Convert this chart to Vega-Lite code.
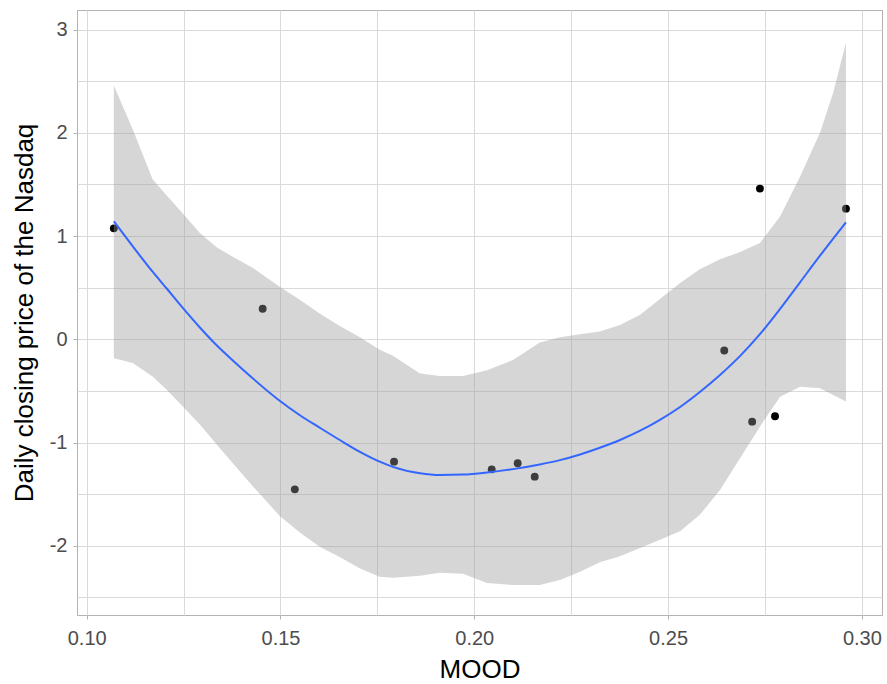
{
  "$schema": "https://vega.github.io/schema/vega-lite/v6.json",
  "width": 805,
  "height": 605,
  "autosize": {"type": "none"},
  "padding": {"left": 77, "top": 10, "right": 5, "bottom": 69},
  "background": "white",
  "config": {
    "font": "Liberation Sans",
    "view": {"stroke": "#B3B3B3", "strokeWidth": 1},
    "axis": {
      "domain": false,
      "gridColor": "#DADADA",
      "gridWidth": 1,
      "tickColor": "#B3B3B3",
      "tickSize": 4,
      "labelColor": "#4D4D4D",
      "labelFont": "Liberation Sans",
      "labelFontSize": 20,
      "titleFont": "Liberation Sans",
      "titleFontSize": 26,
      "titleFontWeight": "normal",
      "titleColor": "black",
      "labelOverlap": false,
      "labelFlush": false
    }
  },
  "datasets": {
    "obs": [
      {"mood": 0.1070, "nasdaq": 1.075},
      {"mood": 0.1454, "nasdaq": 0.296},
      {"mood": 0.1537, "nasdaq": -1.453},
      {"mood": 0.1793, "nasdaq": -1.185},
      {"mood": 0.2045, "nasdaq": -1.259},
      {"mood": 0.2112, "nasdaq": -1.200},
      {"mood": 0.2156, "nasdaq": -1.330},
      {"mood": 0.2645, "nasdaq": -0.108},
      {"mood": 0.2717, "nasdaq": -0.797},
      {"mood": 0.2737, "nasdaq": 1.460},
      {"mood": 0.2776, "nasdaq": -0.745},
      {"mood": 0.2959, "nasdaq": 1.266}
    ],
    "smooth": [
      {"mood": 0.1070, "fit": 1.143, "lo": -0.182, "hi": 2.459},
      {"mood": 0.1119, "fit": 0.900, "lo": -0.230, "hi": 2.032},
      {"mood": 0.1170, "fit": 0.655, "lo": -0.360, "hi": 1.550},
      {"mood": 0.1207, "fit": 0.490, "lo": -0.490, "hi": 1.390},
      {"mood": 0.1248, "fit": 0.305, "lo": -0.650, "hi": 1.220},
      {"mood": 0.1292, "fit": 0.115, "lo": -0.825, "hi": 1.030},
      {"mood": 0.1336, "fit": -0.060, "lo": -1.020, "hi": 0.890},
      {"mood": 0.1377, "fit": -0.205, "lo": -1.200, "hi": 0.800},
      {"mood": 0.1429, "fit": -0.380, "lo": -1.425, "hi": 0.690},
      {"mood": 0.1498, "fit": -0.595, "lo": -1.710, "hi": 0.510},
      {"mood": 0.1550, "fit": -0.735, "lo": -1.870, "hi": 0.383},
      {"mood": 0.1601, "fit": -0.855, "lo": -2.010, "hi": 0.250},
      {"mood": 0.1653, "fit": -0.975, "lo": -2.107, "hi": 0.130},
      {"mood": 0.1705, "fit": -1.090, "lo": -2.219, "hi": 0.020},
      {"mood": 0.1756, "fit": -1.185, "lo": -2.300, "hi": -0.100},
      {"mood": 0.1790, "fit": -1.235, "lo": -2.310, "hi": -0.160},
      {"mood": 0.1860, "fit": -1.297, "lo": -2.290, "hi": -0.330},
      {"mood": 0.1911, "fit": -1.314, "lo": -2.260, "hi": -0.355},
      {"mood": 0.1971, "fit": -1.310, "lo": -2.270, "hi": -0.355},
      {"mood": 0.2033, "fit": -1.290, "lo": -2.360, "hi": -0.300},
      {"mood": 0.2100, "fit": -1.257, "lo": -2.380, "hi": -0.200},
      {"mood": 0.2169, "fit": -1.212, "lo": -2.380, "hi": -0.030},
      {"mood": 0.2221, "fit": -1.170, "lo": -2.330, "hi": 0.020},
      {"mood": 0.2273, "fit": -1.115, "lo": -2.250, "hi": 0.050},
      {"mood": 0.2324, "fit": -1.050, "lo": -2.160, "hi": 0.076},
      {"mood": 0.2376, "fit": -0.975, "lo": -2.100, "hi": 0.140},
      {"mood": 0.2428, "fit": -0.885, "lo": -2.020, "hi": 0.238},
      {"mood": 0.2479, "fit": -0.780, "lo": -1.940, "hi": 0.390},
      {"mood": 0.2531, "fit": -0.655, "lo": -1.860, "hi": 0.545},
      {"mood": 0.2582, "fit": -0.510, "lo": -1.700, "hi": 0.680},
      {"mood": 0.2634, "fit": -0.345, "lo": -1.460, "hi": 0.776},
      {"mood": 0.2686, "fit": -0.160, "lo": -1.150, "hi": 0.845},
      {"mood": 0.2737, "fit": 0.050, "lo": -0.846, "hi": 0.933},
      {"mood": 0.2789, "fit": 0.295, "lo": -0.555, "hi": 1.190},
      {"mood": 0.2841, "fit": 0.555, "lo": -0.458, "hi": 1.580},
      {"mood": 0.2892, "fit": 0.810, "lo": -0.473, "hi": 2.000},
      {"mood": 0.2926, "fit": 0.975, "lo": -0.540, "hi": 2.388},
      {"mood": 0.2959, "fit": 1.133, "lo": -0.603, "hi": 2.873}
    ]
  },
  "encoding": {
    "x": {
      "field": "mood",
      "type": "quantitative",
      "title": "MOOD",
      "scale": {"domain": [0.0975, 0.3052], "nice": false, "zero": false},
      "axis": {
        "values": [0.1, 0.125, 0.15, 0.175, 0.2, 0.225, 0.25, 0.275, 0.3],
        "labelExpr": "abs(datum.value * 20 - round(datum.value * 20)) > 0.01 ? '' : format(datum.value, '.2f')",
        "tickOpacity": {"condition": {"test": "abs(datum.value * 20 - round(datum.value * 20)) > 0.01", "value": 0}, "value": 1},
        "labelPadding": 9,
        "titlePadding": 8
      }
    }
  },
  "layer": [
    {
      "data": {"name": "obs"},
      "mark": {"type": "point", "filled": true, "color": "black", "opacity": 1, "size": 62},
      "encoding": {
        "y": {
          "field": "nasdaq",
          "type": "quantitative",
          "title": "Daily closing price of the Nasdaq",
          "scale": {"domain": [-2.67, 3.19], "nice": false, "zero": false},
          "axis": {
            "values": [-2.5, -2, -1.5, -1, -0.5, 0, 0.5, 1, 1.5, 2, 2.5, 3],
            "labelExpr": "datum.value % 1 != 0 ? '' : '' + datum.value",
            "tickOpacity": {"condition": {"test": "datum.value % 1 != 0", "value": 0}, "value": 1},
            "labelPadding": 6,
            "titlePadding": 12
          }
        }
      }
    },
    {
      "data": {"name": "smooth"},
      "mark": {"type": "area", "color": "#999999", "opacity": 0.4},
      "encoding": {
        "y": {"field": "lo", "type": "quantitative"},
        "y2": {"field": "hi"}
      }
    },
    {
      "data": {"name": "smooth"},
      "mark": {"type": "line", "color": "#3366FF", "strokeWidth": 2, "interpolate": "monotone"},
      "encoding": {
        "y": {"field": "fit", "type": "quantitative"}
      }
    }
  ]
}
